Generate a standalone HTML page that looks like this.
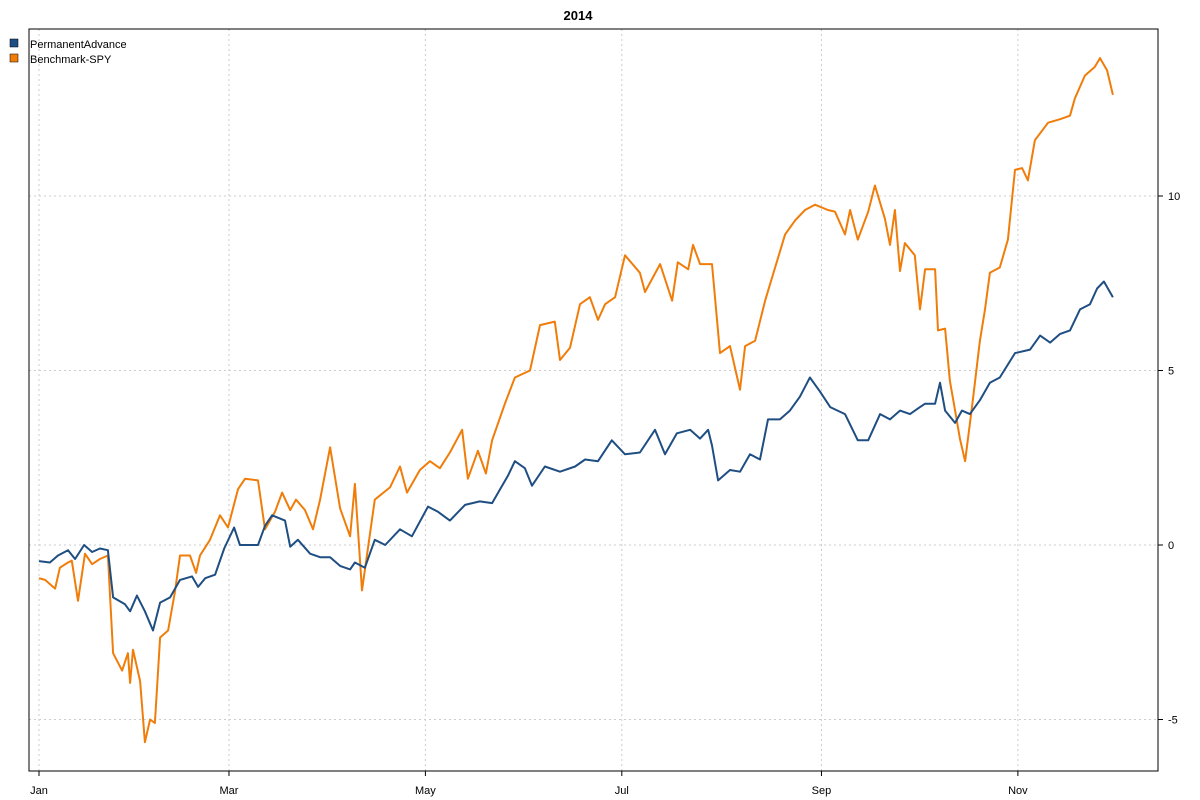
<!DOCTYPE html>
<html><head><meta charset="utf-8"><style>
body{margin:0;background:#fff;}
svg{display:block;font-family:"Liberation Sans",sans-serif;}
</style></head><body>
<svg id="chart" width="1200" height="800">
<rect x="0" y="0" width="1200" height="800" fill="#fff"/>
<text x="578" y="20" font-size="13" font-weight="bold" text-anchor="middle">2014</text>
<g id="grid"></g>
<g id="axes"></g>
<g id="series"></g>
<rect x="29" y="29" width="1129" height="742" fill="none" stroke="#000" stroke-width="1"/>
<g>
<g>
<rect x="10" y="39" width="8" height="8" fill="#1f4e82" stroke="#000" stroke-width="0.5"/>
<text x="30" y="48" font-size="11">PermanentAdvance</text></g>
<g>
<rect x="10" y="54" width="8" height="8" fill="#f07d0a" stroke="#000" stroke-width="0.5"/>
<text x="30" y="63" font-size="11">Benchmark-SPY</text></g>
</g>
</svg>
<script>
const monthLabels = ["Jan","Mar","May","Jul","Sep","Nov"];
const monthDays = [0,59,120,181,243,304];
const yTicks = [-5,0,5,10];
const blueDays = [0,3.4,5.9,9,11.2,14,16.5,18.9,21.4,23,26.7,28.3,30.4,32.9,35.4,37.6,40.7,43.8,47.5,49.4,51.6,54.7,57.5,60.6,62.4,68,70.2,72.4,76.4,78,80.4,84.2,87.3,90.4,93.5,96.6,98.1,101.2,104.3,107.5,112.1,115.8,120.8,123.9,127.6,132.3,136.9,140.7,143.2,145.7,147.8,150.9,153.1,157.1,161.8,166.5,169.6,173.6,177.9,182,186.6,191.3,194.4,198.1,202.2,205.3,207.8,209,210.9,214.6,217.7,220.8,223.9,226.4,230.1,233.2,236.3,239.4,242.5,245.7,250.3,254.3,257.5,261.2,264.3,267.4,270.5,273.6,275.2,278.3,279.8,281.4,284.5,286.6,289.1,292.2,295.3,298.4,303.1,307.8,310.9,314,317.1,320.2,323.3,326.4,328.6,330.7,333.5];
const blueVals = [-0.46,-0.5,-0.3,-0.15,-0.4,0,-0.2,-0.1,-0.15,-1.5,-1.7,-1.9,-1.45,-1.9,-2.45,-1.65,-1.5,-1.0,-0.9,-1.2,-0.95,-0.85,-0.1,0.5,0,0,0.55,0.85,0.7,-0.05,0.15,-0.25,-0.35,-0.35,-0.6,-0.7,-0.5,-0.65,0.15,0,0.45,0.25,1.1,0.95,0.7,1.15,1.25,1.2,1.6,2.0,2.4,2.2,1.7,2.25,2.1,2.25,2.45,2.4,3.0,2.6,2.65,3.3,2.6,3.2,3.3,3.05,3.3,2.85,1.85,2.15,2.1,2.6,2.45,3.6,3.6,3.85,4.25,4.8,4.4,3.95,3.75,3.0,3.0,3.75,3.6,3.85,3.75,3.95,4.05,4.05,4.65,3.85,3.5,3.85,3.75,4.15,4.65,4.8,5.5,5.6,6.0,5.8,6.05,6.15,6.75,6.9,7.35,7.55,7.1];
const orangeDays = [0,1.9,5,6.5,9,10.2,12.1,14.3,16.5,18.9,21.4,23,25.8,27.6,28.3,29.2,31.4,32.9,34.5,36,37.6,40.1,42.2,43.8,46.9,48.8,50,53.1,56.2,58.7,61.8,64,68,70.2,73.3,75.5,78,79.8,82.6,85.1,87.3,90.4,93.5,96.6,98.1,100.3,104.3,109,112.1,114.3,118.3,121.4,124.5,127.6,131.4,133.2,136.3,138.8,140.7,144.7,147.8,152.5,155.6,160.2,161.8,164.9,168,171.1,173.6,175.8,178.9,182,186.6,188.2,192.9,196.6,198.4,201.6,203.1,205.3,209,211.5,214.6,217.7,219.3,222.4,225.5,228.6,231.7,234.8,237.9,241,245,247.2,250.3,251.9,254.3,257.5,259.6,262.7,264.3,265.8,267.4,268.9,272,273.6,275.2,278.3,279.2,281.4,282.9,284.5,286,287.6,289.8,292.2,293.8,295.3,298.4,300.9,303.1,305.3,307.1,309.3,313.4,317.1,320.2,321.7,324.8,327.9,329.5,331.7,333.5];
const orangeVals = [-0.95,-1.0,-1.25,-0.65,-0.5,-0.45,-1.6,-0.25,-0.55,-0.4,-0.3,-3.1,-3.6,-3.1,-3.95,-3.0,-3.9,-5.65,-5.0,-5.1,-2.65,-2.45,-1.35,-0.3,-0.3,-0.8,-0.3,0.15,0.85,0.5,1.6,1.9,1.85,0.45,0.95,1.5,1.0,1.3,1.0,0.45,1.3,2.8,1.05,0.25,1.75,-1.3,1.3,1.65,2.25,1.5,2.15,2.4,2.2,2.65,3.3,1.9,2.7,2.05,3.0,4.05,4.8,5.0,6.3,6.4,5.3,5.65,6.9,7.1,6.45,6.9,7.1,8.3,7.8,7.25,8.05,7.0,8.1,7.9,8.6,8.05,8.05,5.5,5.7,4.45,5.7,5.85,7.0,7.95,8.9,9.3,9.6,9.75,9.6,9.55,8.9,9.6,8.75,9.55,10.3,9.35,8.6,9.6,7.85,8.65,8.3,6.75,7.9,7.9,6.15,6.2,4.7,3.85,3.05,2.4,4.0,5.85,6.75,7.8,7.95,8.75,10.75,10.8,10.45,11.6,12.1,12.2,12.3,12.8,13.45,13.7,13.95,13.6,12.9];

const NS = "http://www.w3.org/2000/svg";
const L = 29, R = 1158, T = 29, B = 771;
function xScale(d){ return 39 + d * 3.22; }
function yScale(v){ return 545 - v * 34.9; }
function mk(tag, attrs, parent){ const e = document.createElementNS(NS, tag); for (const k in attrs) e.setAttribute(k, attrs[k]); parent.appendChild(e); return e; }
const grid = document.getElementById('grid'), axes = document.getElementById('axes'), series = document.getElementById('series');

monthDays.forEach((d, i) => {
  const x = xScale(d);
  const gl = mk('line', {x1:x, x2:x, y1:T, y2:B, stroke:'#ccc', 'stroke-dasharray':'2,3'}, grid);
  
  
  const tk = mk('line', {x1:x, x2:x, y1:B, y2:B+5, stroke:'#000'}, axes);
  
  
  const t = mk('text', {x:x, y:B+23, 'font-size':11, 'text-anchor':'middle'}, axes);
  t.textContent = monthLabels[i];
  
  
});
yTicks.forEach(v => {
  const y = yScale(v);
  const gl = mk('line', {x1:L, x2:R, y1:y, y2:y, stroke:'#ccc', 'stroke-dasharray':'2,3'}, grid);
  
  
  const tk = mk('line', {x1:R, x2:R+5, y1:y, y2:y, stroke:'#000'}, axes);
  
  
  const t = mk('text', {x:R+10, y:y+4, 'font-size':11}, axes);
  t.textContent = v;
  
  
});
function drawLine(days, vals, color, name){
  const pts = days.map((d, i) => xScale(d).toFixed(1) + ',' + yScale(vals[i]).toFixed(1)).join(' ');
  const p = mk('polyline', {points:pts, fill:'none', stroke:color, 'stroke-width':2, 'stroke-linejoin':'round'}, series);
  
  
}
drawLine(orangeDays, orangeVals, '#f07d0a', 'benchmark-spy-line');
drawLine(blueDays, blueVals, '#1f4e82', 'permanentadvance-line');
</script>
</body></html>
